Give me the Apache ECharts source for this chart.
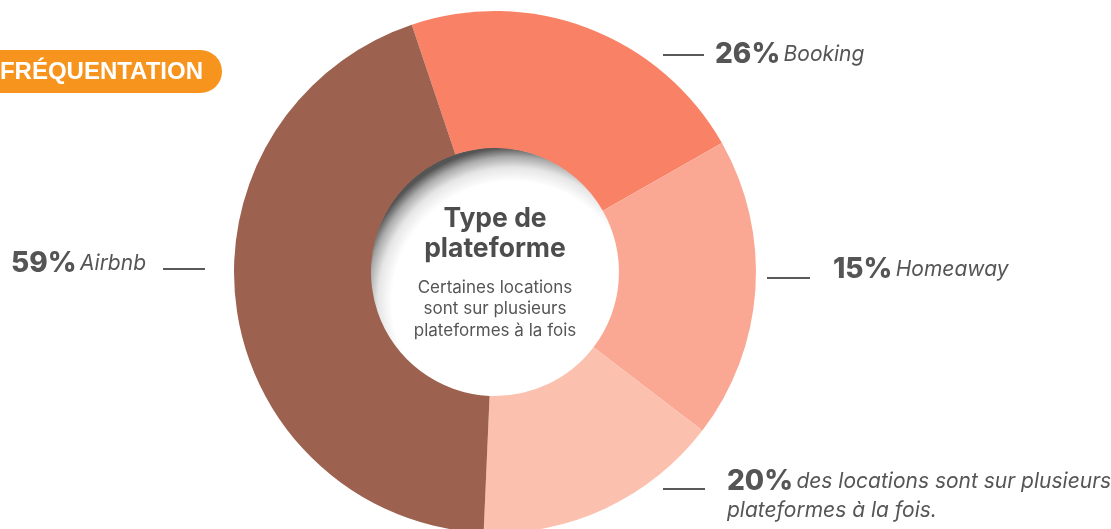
<!DOCTYPE html>
<html lang="fr">
  <head>
    <meta charset="UTF-8" />
    <title>plateformes</title>
    <style>
      html,
      body {
        margin: 0;
        padding: 0;
        background: #ffffff;
      }
      #main {
        width: 1111px;
        height: 529px;
      }
    </style>
  </head>
  <body>
    <div id="main"></div>
    <script src="https://cdn.jsdelivr.net/npm/echarts@6/dist/echarts.min.js"></script>
    <script>
      // données (parts d'angle du donut, en degrés)
      const platforms = ["Booking", "Homeaway", "Multi", "Airbnb"];
      const sliceShares = [79, 67, 55.1, 158.9];
      // pourcentages affichés dans les étiquettes
      const pctLabels = ["26%", "15%", "20%", "59%"];
      const nameLabels = [
        "Booking",
        "Homeaway",
        "des locations sont sur plusieurs\nplateformes à la fois.",
        "Airbnb",
      ];
      const sliceColors = ["#F98266", "#FAA894", "#FCC0AF", "#9C614F"];

      // position des étiquettes : [x texte, y haut, x1 trait, x2 trait, y trait]
      const labelPos = [
        [715, 40, 663, 704, 55],
        [833, 255, 767, 810, 278],
        [727, 467, 663, 705, 489],
        [11, 249, 163, 205, 269],
      ];

      const seriesData = platforms.map((p, i) => ({
        name: p,
        value: sliceShares[i],
        itemStyle: { color: sliceColors[i] },
      }));

      const chart = echarts.init(document.getElementById("main"));
      const option = {
        animation: false,
        series: [
          {
            type: "pie",
            center: [495, 272],
            radius: [124, 261],
            startAngle: 108.6,
            clockwise: true,
            avoidLabelOverlap: false,
            emphasis: { disabled: true },
            data: seriesData,
            label: {
              show: true,
              formatter: (p) => {
                const parts = nameLabels[p.dataIndex].split("\n");
                let s = "{p|" + pctLabels[p.dataIndex] + "} {n|" + parts[0] + "}";
                for (let k = 1; k < parts.length; k++) s += "\n{n|" + parts[k] + "}";
                return s;
              },
              rich: {
                p: {
                  fontFamily: "Inter",
                  fontWeight: 800,
                  fontSize: 28,
                  color: "#555555",
                  lineHeight: 29,
                },
                n: {
                  fontFamily: "Inter",
                  fontStyle: "italic",
                  fontSize: 21,
                  color: "#555555",
                  lineHeight: 29,
                },
              },
            },
            labelLine: {
              show: true,
              lineStyle: { color: "#222222", width: 1.5, opacity: 1 },
            },
            labelLayout: (params) => {
              const lp = labelPos[params.dataIndex];
              return {
                x: lp[0],
                y: lp[1],
                align: "left",
                verticalAlign: "top",
                labelLinePoints: [
                  [lp[2], lp[4]],
                  [lp[2], lp[4]],
                  [lp[3], lp[4]],
                ],
              };
            },
          },
        ],
        graphic: [
          {
            type: "rect",
            shape: { x: -40, y: 50, width: 262, height: 43, r: 21.5 },
            style: { fill: "#F7941D" },
          },
          {
            type: "text",
            x: 203,
            y: 72,
            style: {
              text: "FRÉQUENTATION",
              fontFamily: "Liberation Sans",
              fontWeight: "bold",
              fontSize: 24,
              fill: "#ffffff",
              textAlign: "right",
              textVerticalAlign: "middle",
            },
          },
          {
            type: "circle",
            shape: { cx: 495, cy: 272, r: 124.5 },
            style: {
              fill: new echarts.graphic.RadialGradient(0.57, 0.62, 0.62, [
                { offset: 0, color: "#ffffff" },
                { offset: 0.78, color: "#ffffff" },
                { offset: 0.87, color: "#e6e6e6" },
                { offset: 0.94, color: "#ababab" },
                { offset: 1, color: "#555555" },
              ]),
            },
          },
          {
            type: "text",
            x: 495,
            y: 204,
            style: {
              text: "Type de\nplateforme",
              fontFamily: "Inter",
              fontWeight: "bold",
              fontSize: 26.5,
              lineHeight: 30,
              fill: "#4d4d4d",
              textAlign: "center",
              textVerticalAlign: "top",
            },
          },
          {
            type: "text",
            x: 495,
            y: 277,
            style: {
              text: "Certaines locations\nsont sur plusieurs\nplateformes à la fois",
              fontFamily: "Inter",
              fontSize: 17,
              lineHeight: 21.5,
              fill: "#555555",
              textAlign: "center",
              textVerticalAlign: "top",
            },
          },
        ],
      };
      chart.setOption(option);
    </script>
  </body>
</html>
